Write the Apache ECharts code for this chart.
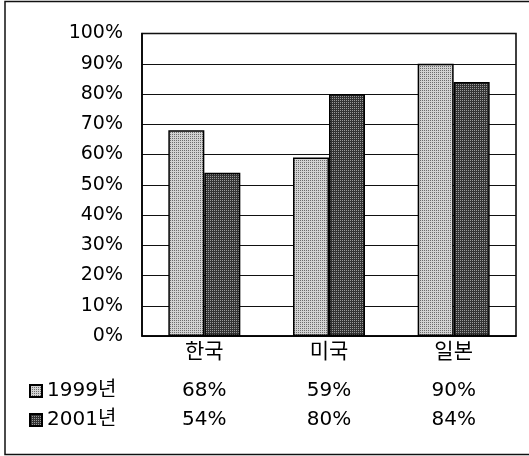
<!DOCTYPE html>
<html>
<head>
<meta charset="utf-8">
<script src="https://cdn.jsdelivr.net/npm/echarts@6/dist/echarts.min.js"></script>
<style>
  html, body { margin: 0; padding: 0; background: #fff; }
  #chart { width: 529px; height: 456px; }
</style>
</head>
<body>
<div id="chart"></div>
<script>
// Categories and yearly shares (%)
const categories = ['한국', '미국', '일본'];
const seriesNames = ['1999년', '2001년'];
const values1999 = [68, 59, 90];
const values2001 = [54, 80, 84];
const yTicks = [0, 10, 20, 30, 40, 50, 60, 70, 80, 90, 100];

const FONT = '"DejaVu Sans", "Noto Sans CJK KR", sans-serif';

// Small dotted fill patterns in the style of halftone screening
function dotPattern(bg, dot) {
  const c = document.createElement('canvas');
  c.width = 2; c.height = 2;
  const ctx = c.getContext('2d');
  ctx.fillStyle = bg;
  ctx.fillRect(0, 0, 2, 2);
  ctx.fillStyle = dot;
  ctx.fillRect(0, 0, 1, 1);
  return { image: c, repeat: 'repeat' };
}
const lightFill = dotPattern('#d2d2d2', '#6c6c6c');
const darkFill = dotPattern('#333333', '#9a9a9a');

const chart = echarts.init(document.getElementById('chart'), null, { renderer: 'canvas' });

const hiddenRowAxis = (offset, vals) => ({
  type: 'category',
  data: categories,
  position: 'bottom',
  offset: offset,
  axisLine: { show: false },
  axisTick: { show: false },
  splitLine: { show: false },
  axisLabel: {
    margin: 0,
    fontSize: 20,
    fontFamily: FONT,
    color: '#000',
    formatter: (v, i) => vals[i] + '%'
  }
});

chart.setOption({
  animation: false,
  backgroundColor: '#fff',
  textStyle: { fontFamily: FONT },
  graphic: [{
    type: 'rect',
    shape: { x: 5, y: 1.5, width: 600, height: 453 },
    style: { fill: 'none', stroke: '#111', lineWidth: 1.5 },
    silent: true
  }],
  grid: {
    left: 142, right: 13, top: 33.5, bottom: 120,
    show: true, borderColor: '#000', borderWidth: 1.5
  },
  legend: {
    orient: 'vertical',
    left: 29, top: 381,
    padding: 0,
    itemWidth: 12, itemHeight: 12,
    itemGap: 9,
    icon: 'rect',
    textStyle: { fontSize: 20, lineHeight: 20, fontFamily: FONT, color: '#000' },
    data: seriesNames
  },
  xAxis: [
    {
      type: 'category',
      data: categories,
      axisLine: { show: true, lineStyle: { color: '#000', width: 1.5 } },
      axisTick: { show: false },
      axisLabel: { margin: 6, fontSize: 21, fontFamily: FONT, color: '#000' }
    },
    hiddenRowAxis(45, values1999),
    hiddenRowAxis(74, values2001)
  ],
  yAxis: {
    type: 'value',
    min: 0, max: 100, interval: 10,
    axisLine: { show: true, lineStyle: { color: '#000', width: 1.5 } },
    axisTick: { show: false },
    splitLine: { show: true, lineStyle: { color: '#111', width: 1 } },
    axisLabel: {
      margin: 19, fontSize: 19, fontFamily: FONT, color: '#000',
      customValues: yTicks,
      formatter: '{value}%'
    }
  },
  series: [
    {
      name: seriesNames[0],
      type: 'bar',
      data: values1999,
      barWidth: 36,
      barGap: '0%',
      itemStyle: { color: lightFill, borderColor: '#000', borderWidth: 1.5 }
    },
    {
      name: seriesNames[1],
      type: 'bar',
      data: values2001,
      barWidth: 36,
      barGap: '0%',
      itemStyle: { color: darkFill, borderColor: '#000', borderWidth: 1.5 }
    }
  ]
});
</script>
</body>
</html>
